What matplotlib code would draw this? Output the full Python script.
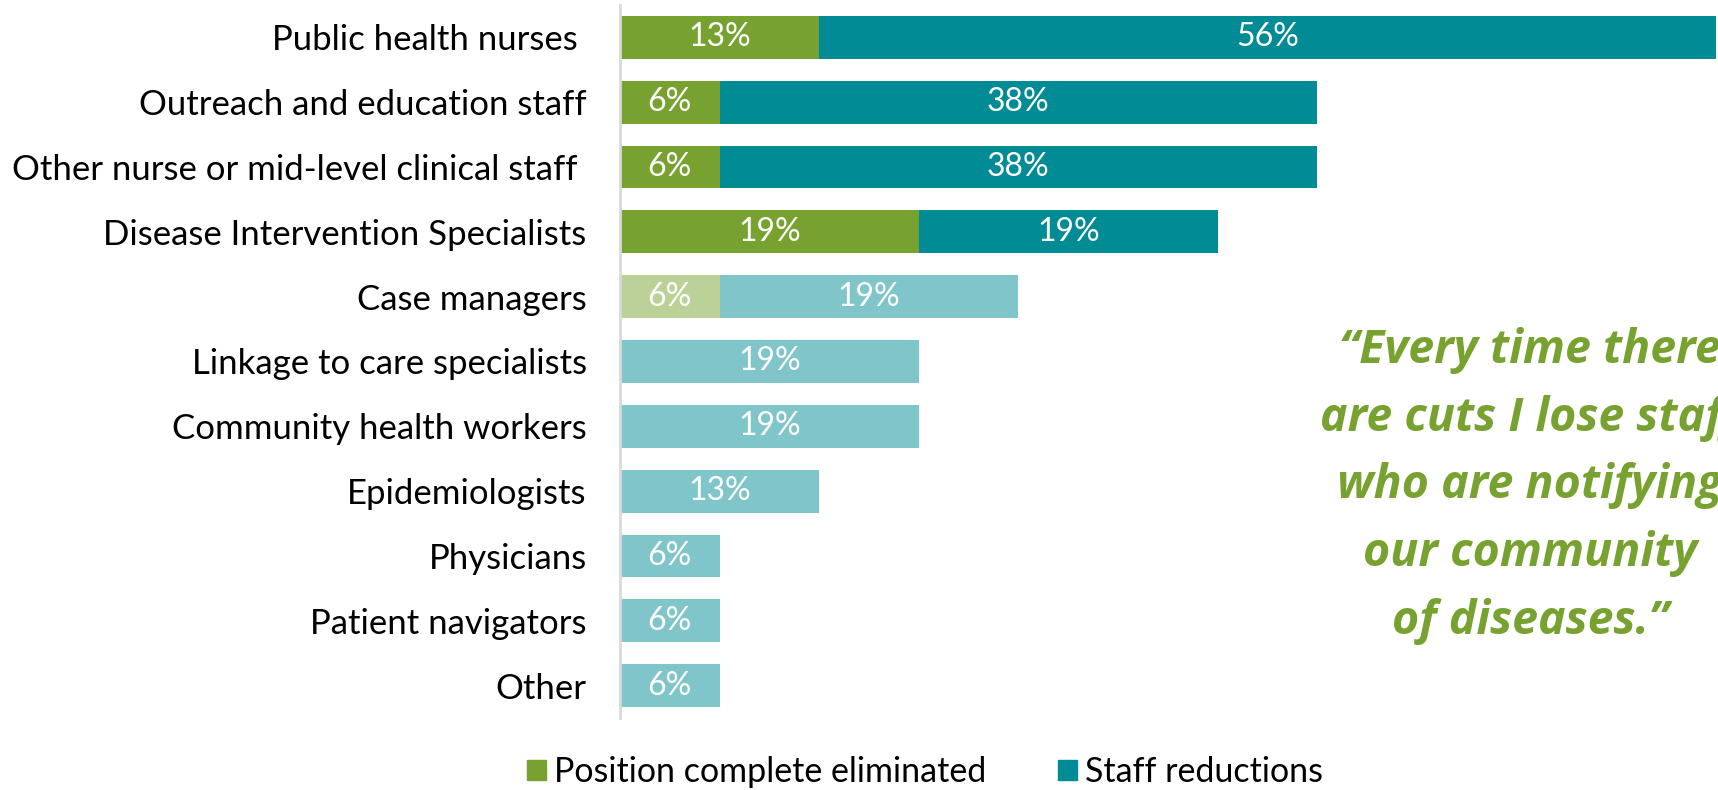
import matplotlib
matplotlib.use("Agg")
import matplotlib.pyplot as plt
from matplotlib.patches import Patch
from matplotlib.colors import to_rgb

categories = ["Public health nurses ", "Outreach and education staff",
              "Other nurse or mid-level clinical staff ", "Disease Intervention Specialists",
              "Case managers", "Linkage to care specialists", "Community health workers",
              "Epidemiologists", "Physicians", "Patient navigators", "Other"]
eliminated = [12.5, 6.25, 6.25, 18.75, 6.25, 0, 0, 0, 0, 0, 0]
reductions = [56.25, 37.5, 37.5, 18.75, 18.75, 18.75, 18.75, 12.5, 6.25, 6.25, 6.25]
highlight = [True, True, True, True, False, False, False, False, False, False, False]
legend_labels = ["Position complete eliminated", "Staff reductions"]
quote = "\u201cEvery time there\nare cuts I lose staff\nwho are notifying\nour community\nof diseases.\u201d"

GREEN = "#78A22F"
TEAL = "#008B95"

def light(c):
    r, g, b = to_rgb(c)
    return (r + (1 - r) * 0.5, g + (1 - g) * 0.5, b + (1 - b) * 0.5)

FONT = "Lato"
fig = plt.figure(figsize=(17.18, 7.9), dpi=100)
ax = fig.add_axes([620 / 1718, 1 - 718 / 790, 1 - 620 / 1718, (718 - 5) / 790])

y = list(range(len(categories)))
gcol = [GREEN if h else light(GREEN) for h in highlight]
tcol = [TEAL if h else light(TEAL) for h in highlight]
ax.barh(y, eliminated, height=0.66, color=gcol, linewidth=0)
ax.barh(y, reductions, left=eliminated, height=0.66, color=tcol, linewidth=0)

for i in y:
    e, r = eliminated[i], reductions[i]
    if e > 0:
        ax.text(e / 2, i, f"{int(e + 0.5)}%", ha="center", va="center", color="white",
                fontsize=23, family=FONT)
    if r > 0:
        ax.text(e + r / 2, i, f"{int(r + 0.5)}%", ha="center", va="center", color="white",
                fontsize=23, family=FONT)

ax.set_ylim(len(categories) - 0.5, -0.5)
ax.set_xlim(0, 68.9)
ax.set_yticks(y)
ax.set_yticklabels(categories, fontsize=25, family=FONT, color="black")
ax.tick_params(axis="y", length=0, pad=24)
ax.set_xticks([])
for s in ["top", "right", "bottom"]:
    ax.spines[s].set_visible(False)
ax.spines["left"].set_color("#D9D9D9")
ax.spines["left"].set_linewidth(2)

fig.text(1530 / 1718, 1 - 486 / 790, quote, ha="center", va="center", color=GREEN,
         fontsize=33.5, family="Open Sans", fontweight="bold", fontstyle="italic",
         linespacing=1.57)

handles = [Patch(color=GREEN), Patch(color=TEAL)]
fig.legend(handles, legend_labels, loc="center", bbox_to_anchor=(925 / 1718, 1 - 772 / 790),
           ncol=2, frameon=False, prop={"family": FONT, "size": 24.5},
           handlelength=0.55, handleheight=0.55, handletextpad=0.25, columnspacing=2.1)

fig.savefig("out.png", dpi=100)
